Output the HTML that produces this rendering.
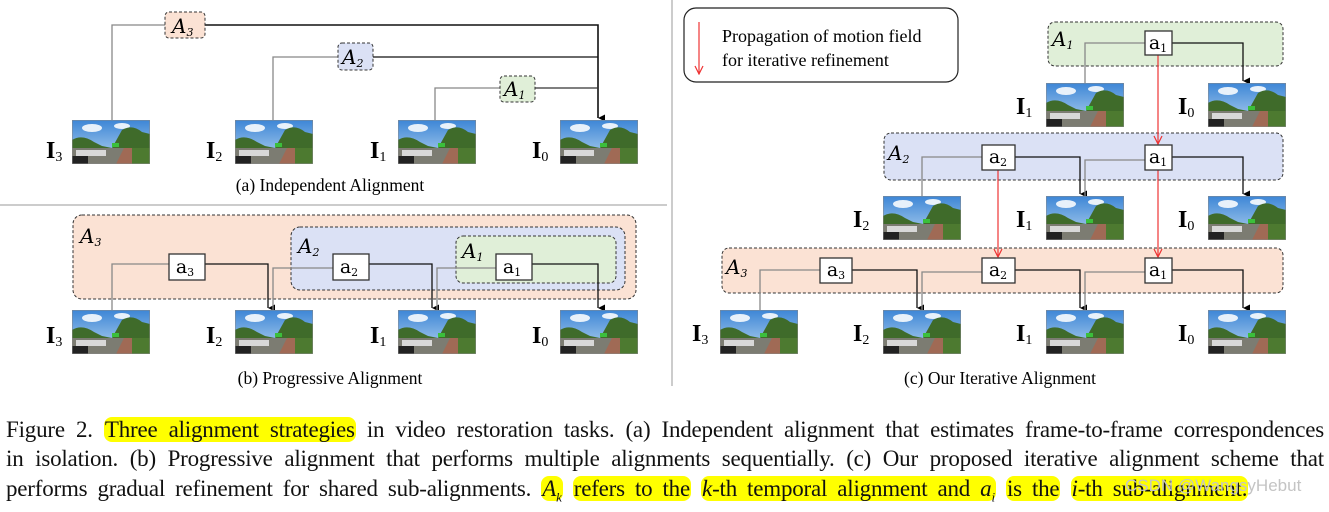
<!DOCTYPE html>
<html><head><meta charset="utf-8"><style>
body{margin:0;width:1329px;height:505px;background:#fff;overflow:hidden;position:relative;font-family:"Liberation Serif",serif}
svg{position:absolute;left:0;top:0}
.cap{position:absolute;left:6px;width:1318px;font-size:23px;line-height:29px;white-space:nowrap;color:#111;letter-spacing:-0.2px}
.j{text-align:justify;text-align-last:justify;white-space:normal}
.h{background:#ffff00;border-radius:8px;padding:0 1px}
.wm{position:absolute;left:1125px;top:476px;color:#c4c4c4;font-family:'Liberation Sans',sans-serif;font-size:17px}
</style></head><body>
<svg width="1329" height="400" viewBox="0 0 1329 400" font-family="Liberation Serif, serif">
<defs>
<linearGradient id="sky" x1="0" y1="0" x2="0" y2="1"><stop offset="0" stop-color="#3d86d6"/><stop offset="1" stop-color="#b9d6f0"/></linearGradient>
<symbol id="p" viewBox="0 0 78 44">
<rect width="78" height="44" fill="url(#sky)"/>
<ellipse cx="20" cy="8" rx="10" ry="4" fill="#e8f1fa"/><ellipse cx="50" cy="6" rx="8" ry="3" fill="#e8f1fa"/>
<path d="M0 20 Q10 14 22 22 L30 26 L40 28 L50 10 Q60 4 70 12 L78 14 L78 44 L0 44Z" fill="#3f6b2a"/>
<rect x="0" y="28" width="78" height="16" fill="#7c7c72"/>
<path d="M44 44 L52 28 L60 28 L60 44Z" fill="#a06a55"/>
<rect x="60" y="28" width="18" height="16" fill="#4d7a30"/>
<rect x="4" y="30" width="30" height="6" fill="#d8d8d8"/><rect x="0" y="36" width="16" height="8" fill="#222"/>
<rect x="40" y="23" width="7" height="4" fill="#3bbf3b"/>
<rect width="78" height="44" fill="none" stroke="#888" stroke-width="1"/>
</symbol>
<marker id="ar" markerWidth="8" markerHeight="8" refX="4" refY="7" orient="auto" markerUnits="userSpaceOnUse"><path d="M0.5 0 L4 7 L7.5 0Z" fill="#000"/></marker>
<marker id="rr" markerWidth="10" markerHeight="10" refX="5" refY="9" orient="0" markerUnits="userSpaceOnUse"><path d="M1 1 L5 9 L9 1" fill="none" stroke="#e33" stroke-width="1.2"/></marker>
</defs>

<line x1="0" y1="205" x2="667" y2="205" stroke="#999"/>
<line x1="672" y1="0" x2="672" y2="386" stroke="#999"/>

<!-- (a) -->
<g fill="none" stroke-width="1.3">
<polyline points="112,120 112,25 165,25" stroke="#888"/>
<polyline points="205,25 598,25 598,118" stroke="#111" stroke-width="1.6" marker-end="url(#ar)"/>
<polyline points="273,120 273,57 338,57" stroke="#888"/>
<polyline points="373,57 598,57" stroke="#111"/>
<polyline points="435,120 435,88 500,88" stroke="#888"/>
<polyline points="535,88 598,88" stroke="#333"/>
</g>
<rect x="165" y="12" width="40" height="26" rx="4" fill="#fbe2d4" stroke="#333" stroke-dasharray="3,2"/>
<rect x="338" y="43" width="35" height="27" rx="4" fill="#dbe1f5" stroke="#333" stroke-dasharray="3,2"/>
<rect x="500" y="76" width="35" height="26" rx="4" fill="#e0efd8" stroke="#333" stroke-dasharray="3,2"/>
<g font-style="italic" font-size="20" font-family="DejaVu Serif, serif">
<text x="172" y="33">A<tspan font-size="11" dy="3">3</tspan></text>
<text x="342" y="64">A<tspan font-size="11" dy="3">2</tspan></text>
<text x="504" y="96">A<tspan font-size="11" dy="3">1</tspan></text>
</g>
<use href="#p" x="72" y="120" width="78" height="44"/><use href="#p" x="235" y="120" width="78" height="44"/>
<use href="#p" x="398" y="120" width="78" height="44"/><use href="#p" x="560" y="120" width="78" height="44"/>
<g font-weight="bold" font-size="24">
<text x="46" y="158">I<tspan font-weight="normal" font-size="14" dy="3">3</tspan></text>
<text x="206" y="158">I<tspan font-weight="normal" font-size="14" dy="3">2</tspan></text>
<text x="370" y="158">I<tspan font-weight="normal" font-size="14" dy="3">1</tspan></text>
<text x="532" y="158">I<tspan font-weight="normal" font-size="14" dy="3">0</tspan></text>
</g>
<text x="330" y="191" font-size="17.5" text-anchor="middle">(a) Independent Alignment</text>

<!-- (b) -->
<rect x="73" y="215" width="563" height="84" rx="9" fill="#fbe2d4" stroke="#333" stroke-dasharray="3,2"/>
<rect x="291" y="227" width="334" height="63" rx="9" fill="#dbe1f5" stroke="#333" stroke-dasharray="3,2"/>
<rect x="456" y="236" width="160" height="47" rx="7" fill="#e0efd8" stroke="#333" stroke-dasharray="3,2"/>
<g fill="none" stroke-width="1.3">
<polyline points="112,310 112,264 169,264" stroke="#888"/>
<polyline points="205,264 268,264 268,308" stroke="#111" marker-end="url(#ar)"/>
<polyline points="273,310 273,268 333,268" stroke="#888"/>
<polyline points="369,264 432,264 432,308" stroke="#111" marker-end="url(#ar)"/>
<polyline points="437,310 437,268 496,268" stroke="#888"/>
<polyline points="532,264 598,264 598,308" stroke="#111" marker-end="url(#ar)"/>
</g>
<g fill="#fff" stroke="#333" stroke-width="1.3">
<rect x="169" y="254" width="36" height="26"/><rect x="333" y="254" width="36" height="26"/><rect x="496" y="254" width="36" height="26"/>
</g>
<g font-size="19" font-family="DejaVu Serif, serif" text-anchor="middle">
<text x="185" y="273">a<tspan font-size="11" dy="3">3</tspan></text>
<text x="349" y="273">a<tspan font-size="11" dy="3">2</tspan></text>
<text x="512" y="273">a<tspan font-size="11" dy="3">1</tspan></text>
</g>
<g font-style="italic" font-size="20" font-family="DejaVu Serif, serif">
<text x="80" y="243">A<tspan font-size="11" dy="3">3</tspan></text>
<text x="298" y="253">A<tspan font-size="11" dy="3">2</tspan></text>
<text x="462" y="258">A<tspan font-size="11" dy="3">1</tspan></text>
</g>
<use href="#p" x="72" y="310" width="78" height="44"/><use href="#p" x="235" y="310" width="78" height="44"/>
<use href="#p" x="398" y="310" width="78" height="44"/><use href="#p" x="560" y="310" width="78" height="44"/>
<g font-weight="bold" font-size="24">
<text x="46" y="343">I<tspan font-weight="normal" font-size="14" dy="3">3</tspan></text>
<text x="206" y="343">I<tspan font-weight="normal" font-size="14" dy="3">2</tspan></text>
<text x="370" y="343">I<tspan font-weight="normal" font-size="14" dy="3">1</tspan></text>
<text x="532" y="343">I<tspan font-weight="normal" font-size="14" dy="3">0</tspan></text>
</g>
<text x="330" y="384" font-size="17.5" text-anchor="middle">(b) Progressive Alignment</text>

<!-- (c) -->
<rect x="684" y="8" width="274" height="74" rx="12" fill="#fff" stroke="#222" stroke-width="1.2"/>
<line x1="699" y1="22" x2="699" y2="74" stroke="#e33" stroke-width="1.2" marker-end="url(#rr)"/>
<text x="722" y="42" font-size="18">Propagation of motion field</text>
<text x="722" y="66" font-size="18">for iterative refinement</text>

<rect x="1048" y="22" width="235" height="44" rx="7" fill="#e0efd8" stroke="#333" stroke-dasharray="3,2"/>
<rect x="884" y="133" width="399" height="47" rx="7" fill="#dbe1f5" stroke="#333" stroke-dasharray="3,2"/>
<rect x="722" y="248" width="561" height="45" rx="7" fill="#fbe2d4" stroke="#333" stroke-dasharray="3,2"/>
<g fill="none" stroke-width="1.3">
<polyline points="1085,83 1085,43 1145,43" stroke="#888"/>
<polyline points="1172,43 1243,43 1243,81" stroke="#111" marker-end="url(#ar)"/>
<polyline points="922,196 922,157 982,157" stroke="#888"/>
<polyline points="1015,157 1080,157 1080,194" stroke="#111" marker-end="url(#ar)"/>
<polyline points="1085,196 1085,160 1145,160" stroke="#888"/>
<polyline points="1172,157 1243,157 1243,194" stroke="#111" marker-end="url(#ar)"/>
<polyline points="760,310 760,270 820,270" stroke="#888"/>
<polyline points="852,270 917,270 917,308" stroke="#111" marker-end="url(#ar)"/>
<polyline points="922,310 922,272 982,272" stroke="#888"/>
<polyline points="1015,270 1080,270 1080,308" stroke="#111" marker-end="url(#ar)"/>
<polyline points="1085,310 1085,272 1145,272" stroke="#888"/>
<polyline points="1172,270 1243,270 1243,308" stroke="#111" marker-end="url(#ar)"/>
<line x1="1158" y1="55" x2="1158" y2="144" stroke="#e33" stroke-width="1.2" marker-end="url(#rr)"/>
<line x1="1158" y1="170" x2="1158" y2="257" stroke="#e33" stroke-width="1.2" marker-end="url(#rr)"/>
<line x1="998" y1="170" x2="998" y2="257" stroke="#e33" stroke-width="1.2" marker-end="url(#rr)"/>
</g>
<g fill="#fff" stroke="#333" stroke-width="1.3">
<rect x="1145" y="31" width="27" height="24"/>
<rect x="982" y="145" width="33" height="25"/><rect x="1145" y="145" width="27" height="25"/>
<rect x="820" y="258" width="32" height="25"/><rect x="982" y="258" width="33" height="25"/><rect x="1145" y="258" width="27" height="25"/>
</g>
<g font-size="19" font-family="DejaVu Serif, serif" text-anchor="middle">
<text x="1158" y="49">a<tspan font-size="11" dy="3">1</tspan></text>
<text x="998" y="163">a<tspan font-size="11" dy="3">2</tspan></text>
<text x="1158" y="163">a<tspan font-size="11" dy="3">1</tspan></text>
<text x="836" y="276">a<tspan font-size="11" dy="3">3</tspan></text>
<text x="998" y="276">a<tspan font-size="11" dy="3">2</tspan></text>
<text x="1158" y="276">a<tspan font-size="11" dy="3">1</tspan></text>
</g>
<g font-style="italic" font-size="20" font-family="DejaVu Serif, serif">
<text x="1052" y="46">A<tspan font-size="11" dy="3">1</tspan></text>
<text x="888" y="160">A<tspan font-size="11" dy="3">2</tspan></text>
<text x="726" y="274">A<tspan font-size="11" dy="3">3</tspan></text>
</g>
<use href="#p" x="1046" y="83" width="78" height="44"/><use href="#p" x="1208" y="83" width="78" height="44"/>
<use href="#p" x="883" y="196" width="78" height="44"/><use href="#p" x="1046" y="196" width="78" height="44"/><use href="#p" x="1208" y="196" width="78" height="44"/>
<use href="#p" x="720" y="310" width="78" height="44"/><use href="#p" x="883" y="310" width="78" height="44"/><use href="#p" x="1046" y="310" width="78" height="44"/><use href="#p" x="1208" y="310" width="78" height="44"/>
<g font-weight="bold" font-size="24">
<text x="1016" y="114">I<tspan font-weight="normal" font-size="14" dy="3">1</tspan></text>
<text x="1178" y="114">I<tspan font-weight="normal" font-size="14" dy="3">0</tspan></text>
<text x="853" y="227">I<tspan font-weight="normal" font-size="14" dy="3">2</tspan></text>
<text x="1016" y="227">I<tspan font-weight="normal" font-size="14" dy="3">1</tspan></text>
<text x="1178" y="227">I<tspan font-weight="normal" font-size="14" dy="3">0</tspan></text>
<text x="692" y="341">I<tspan font-weight="normal" font-size="14" dy="3">3</tspan></text>
<text x="853" y="341">I<tspan font-weight="normal" font-size="14" dy="3">2</tspan></text>
<text x="1016" y="341">I<tspan font-weight="normal" font-size="14" dy="3">1</tspan></text>
<text x="1178" y="341">I<tspan font-weight="normal" font-size="14" dy="3">0</tspan></text>
</g>
<text x="1000" y="384" font-size="17.5" text-anchor="middle">(c) Our Iterative Alignment</text>
</svg>

<div class="cap j" style="top:415px">Figure 2. <span class="h">Three alignment strategies</span> in video restoration tasks. (a) Independent alignment that estimates frame-to-frame correspondences</div>
<div class="cap j" style="top:444px">in isolation. (b) Progressive alignment that performs multiple alignments sequentially. (c) Our proposed iterative alignment scheme that</div>
<div class="cap" style="top:474px;word-spacing:4.5px">performs gradual refinement for shared sub-alignments. <span class="h"><i>A<sub style="font-size:13px">k</sub></i></span> <span class="h">refers to the</span> <span class="h"><i>k</i>-th temporal alignment and <i>a<sub style="font-size:13px">i</sub></i></span> <span class="h">is the</span> <span class="h"><i>i</i>-th sub-alignment.</span></div>
<div class="wm">CSDN @WangsyHebut</div>
</body></html>
